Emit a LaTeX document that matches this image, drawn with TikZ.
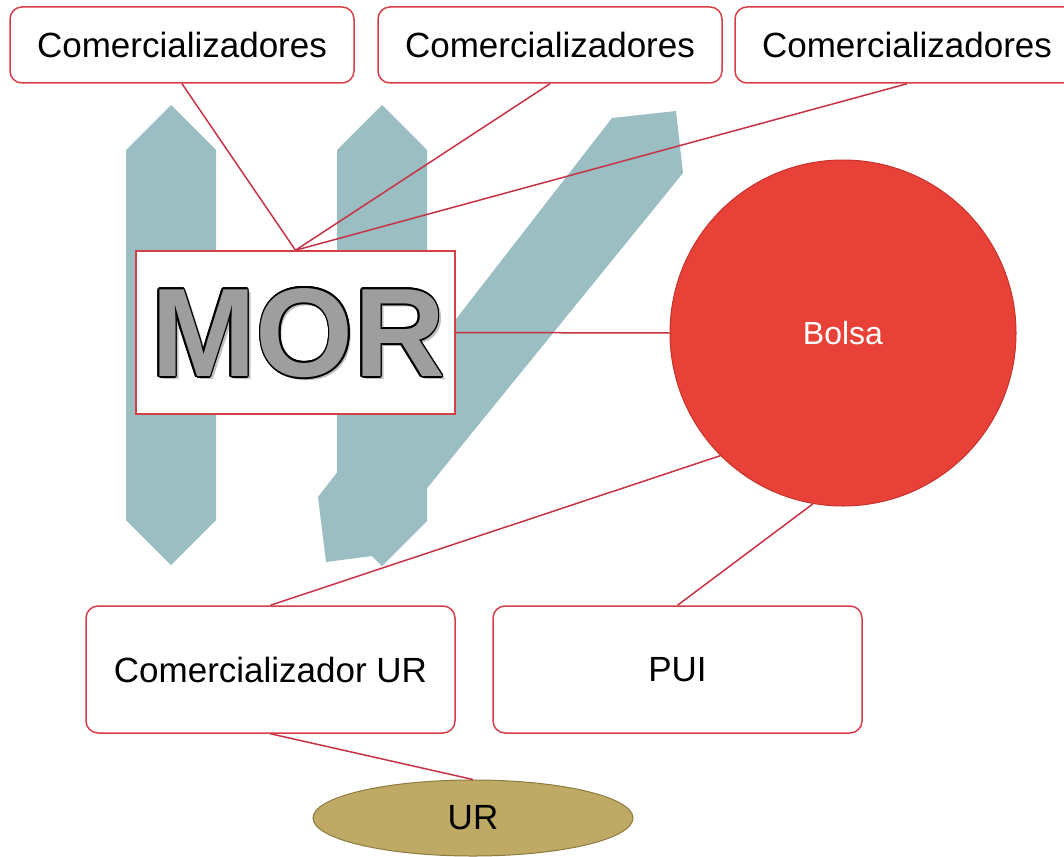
\documentclass[tikz,border=0pt]{standalone}
\usepackage{fontspec}
\setmainfont{Liberation Sans}
\usetikzlibrary{shapes.geometric}
\definecolor{arrowteal}{RGB}{154,190,194}
\definecolor{boxred}{RGB}{214,62,72}
\definecolor{linkred}{RGB}{200,50,70}
\definecolor{bolsared}{RGB}{232,66,56}
\definecolor{bolsaedge}{RGB}{200,50,45}
\definecolor{urfill}{RGB}{190,170,100}
\definecolor{uredge}{RGB}{140,122,64}
\definecolor{morgray}{RGB}{158,158,158}
\newcommand\morfont{\fontsize{126}{130}\selectfont\bfseries}
\begin{document}
\begin{tikzpicture}[x=1pt,y=-1pt,
  rbox/.style={draw=boxred, line width=1.5pt, fill=white, rounded corners=12pt,
    minimum width=344pt, minimum height=76pt, inner sep=0pt,
    font=\fontsize{35}{40}\selectfont},
  bigbox/.style={rbox, minimum width=369pt, minimum height=127pt},
  link/.style={draw=linkred, line width=1.5pt},
  mortext/.style={font=\morfont, inner sep=0pt}]
\useasboundingbox (0,0) rectangle (1064,856);
\clip (0,0) rectangle (1064,856);
% teal arrows
\fill[arrowteal] (171,105) -- (216,150) -- (216,520) -- (171,565) -- (126,520) -- (126,150) -- cycle;
\fill[arrowteal] (382,105) -- (427,150) -- (427,521) -- (382,566) -- (337,521) -- (337,150) -- cycle;
\fill[arrowteal] (676,111) -- (683,173) -- (372,556) -- (326,562) -- (318,497) -- (612,118) -- cycle;
% nodes
\node[rbox] (c1) at (182,45) {Comercializadores};
\node[rbox] (c2) at (550,45) {Comercializadores};
\node[rbox] (c3) at (907,45) {Comercializadores};
\node[draw=boxred, line width=1.5pt, fill=white, minimum width=319pt, minimum height=163pt, inner sep=0pt] (mor) at (295.5,332.5) {};
\coordinate (morc) at (298,333);
\node[mortext, text=black!25] at ([shift={(3pt,-3pt)}]morc) {MOR};
\foreach \a in {0,30,...,330}
  \node[mortext, text=black] at ([shift={(\a:1.8pt)}]morc) {MOR};
\node[mortext, text=morgray] (mortxt) at (morc) {MOR};
\node[circle, fill=bolsared, draw=bolsaedge, line width=1pt, minimum size=346pt, inner sep=0pt,
  text=white, font=\fontsize{32}{36}\selectfont] (bolsa) at (843,333) {Bolsa};
\node[bigbox] (cur) at (270.5,669.5) {Comercializador UR};
\node[bigbox] (pui) at (677.5,669.5) {PUI};
\node[ellipse, fill=urfill, draw=uredge, line width=1pt, minimum width=320pt, minimum height=76pt,
  inner sep=0pt, font=\fontsize{35}{40}\selectfont] (ur) at (473,818) {UR};
% connectors
\draw[link] (c1.south) -- (mor.north);
\draw[link] (c2.south) -- (mor.north);
\draw[link] (c3.south) -- (mor.north);
\draw[link] (mor.east) -- (bolsa.west);
\draw[link] (bolsa.225) -- (cur.north);
\draw[link] (bolsa.260) -- (pui.north);
\draw[link] (cur.south) -- (ur.north);
\end{tikzpicture}
\end{document}
